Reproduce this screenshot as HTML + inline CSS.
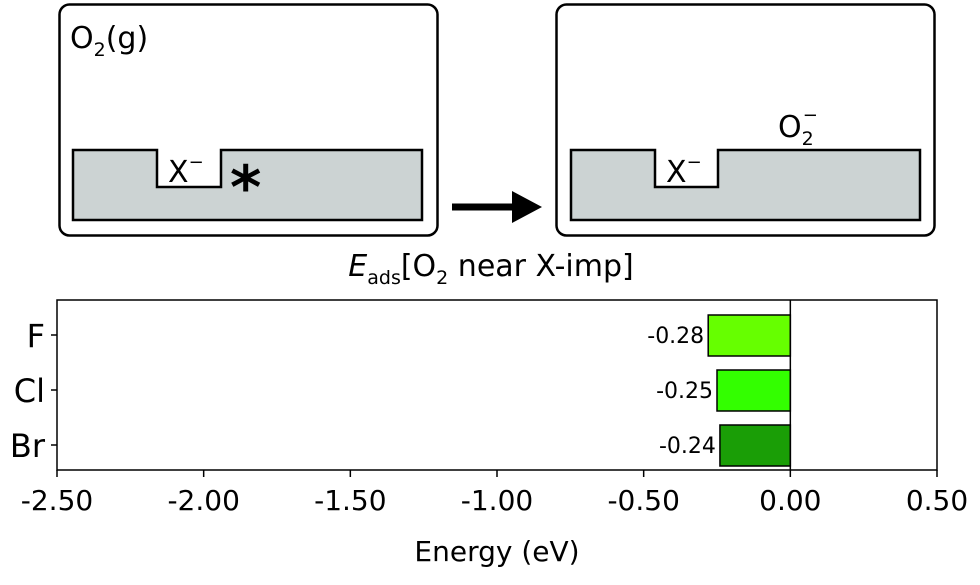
<!DOCTYPE html>
<html><head><meta charset="utf-8"><style>
body{margin:0;background:#fff;}
svg text{font-family:"DejaVu Sans","Liberation Sans",sans-serif;fill:#000;}
</style></head><body>
<svg width="980" height="580" viewBox="0 0 980 580">
<g>
<rect x="59.5" y="4.5" width="378" height="231" rx="10" fill="#fff" stroke="#000" stroke-width="2.5"/>
<path d="M73,150 H157 V187 H221 V150 H422 V220 H73 Z" fill="#ccd3d3" stroke="#000" stroke-width="2.5"/>
<text x="70" y="48" font-size="30">O<tspan font-size="19" dy="8">2</tspan><tspan dy="-8">(g)</tspan></text>
<text x="168" y="182" font-size="30">X<tspan font-size="18" dy="-14">−</tspan></text>
<text x="230" y="208" font-size="60" font-weight="bold">*</text>
</g>
<g>
<line x1="452" y1="207" x2="515" y2="207" stroke="#000" stroke-width="7"/>
<polygon points="512,191 542,207 512,223" fill="#000"/>
</g>
<g>
<rect x="556.5" y="4.5" width="378" height="231" rx="10" fill="#fff" stroke="#000" stroke-width="2.5"/>
<path d="M571,150 H655 V187 H718 V150 H920 V220 H571 Z" fill="#ccd3d3" stroke="#000" stroke-width="2.5"/>
<text x="666" y="182" font-size="30">X<tspan font-size="18" dy="-14">−</tspan></text>
<text x="778" y="137" font-size="30">O<tspan font-size="19" dy="8">2</tspan><tspan font-size="18" dx="-11" dy="-24">−</tspan></text>
</g>
<text x="491" y="276" font-size="30" text-anchor="middle"><tspan font-style="italic">E</tspan><tspan font-size="19" dy="8">ads</tspan><tspan dy="-8">[O</tspan><tspan font-size="19" dy="8">2</tspan><tspan dy="-8"> near X-imp]</tspan></text>
<g id="chart"></g>
</svg>
<script>
const categories=["F","Cl","Br"];
const values=[-0.28,-0.25,-0.24];
const labels=["-0.28","-0.25","-0.24"];
const colors=["#66ff00","#33ff00","#1a9e06"];
const ticks=[-2.5,-2.0,-1.5,-1.0,-0.5,0.0,0.5];
const tickLabels=["-2.50","-2.00","-1.50","-1.00","-0.50","0.00","0.50"];
const NS="http://www.w3.org/2000/svg";
const g=document.getElementById('chart');
const L=57,R=937,T=300,B=470;
const x=v=>L+(v+2.5)/3*(R-L);
const y=i=>335+i*55;
function mk(t,a,txt){const e=document.createElementNS(NS,t);for(const k in a)e.setAttribute(k,a[k]);if(txt!==undefined)e.textContent=txt;g.appendChild(e);return e;}
let e=mk('rect',{x:L,y:T,width:R-L,height:B-T,fill:'#fff',stroke:'#000','stroke-width':1.5});


values.forEach((v,i)=>{
 const x0=x(Math.min(v,0)),x1=x(Math.max(v,0));
 let b=mk('rect',{x:x0,y:y(i)-20,width:x1-x0,height:41,fill:colors[i],stroke:'#000','stroke-width':1.5});
 
 
 let t=mk('text',{x:x0-4,y:y(i)+8,'font-size':22,'text-anchor':'end'},labels[i]);
 
 
 let c=mk('text',{x:45,y:y(i)+12,'font-size':32,'text-anchor':'end'},categories[i]);
 
 
 mk('line',{x1:L-6,x2:L,y1:y(i),y2:y(i),stroke:'#000','stroke-width':1.5});
});
let z=mk('line',{x1:x(0),x2:x(0),y1:T,y2:B,stroke:'#000','stroke-width':1.5});


ticks.forEach((v,i)=>{
 mk('line',{x1:x(v),x2:x(v),y1:B,y2:B+7,stroke:'#000','stroke-width':1.5});
 let t=mk('text',{x:x(v),y:B+40,'font-size':28,'text-anchor':'middle'},tickLabels[i]);
 
 
});
let xt=mk('text',{x:(L+R)/2,y:561,'font-size':28,'text-anchor':'middle'},'Energy (eV)');


</script>
</body></html>
